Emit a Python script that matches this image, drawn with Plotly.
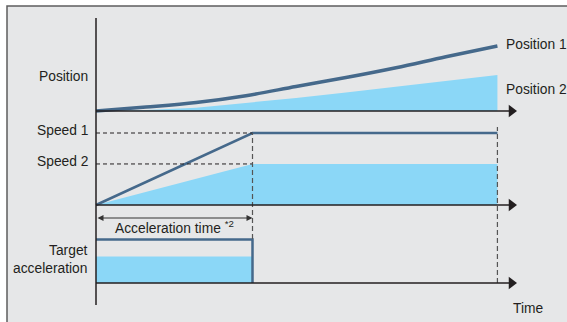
import plotly.graph_objects as go

# ---------------- data ----------------
# time (acceleration time = 1)
t_pos = [0, 0.32, 0.64, 0.958, 1.278, 1.597, 1.917, 2.236, 2.565]
position_1 = [0, 0.06, 0.13, 0.235, 0.377, 0.515, 0.666, 0.835, 1.0]
position_2 = [0, 0.015, 0.05, 0.12, 0.2, 0.285, 0.375, 0.46, 0.555]

t_speed = [0, 1.0, 2.565]
speed_1 = [0, 1.0, 1.0]
speed_2 = [0, 0.57, 0.57]

t_acc = [0, 1.0, 1.0]
target_acc_1 = [1.0, 1.0, 0]
t_acc2 = [0, 1.0]
target_acc_2 = [0.61, 0.61]

ACC_TIME = 1.0
END_TIME = 2.565
AXIS_END = 2.69

# ---------------- style ----------------
W, H = 567, 322
DARK = "#45698b"
LIGHT = "#8bd7f7"
INK = "#231f20"
DASH = "#555555"
PX_PER_T = 156.5
X0PX = 96


def xp(px):
    return px / W


def yp(py):
    return 1 - py / H


def t_of_px(px):
    return (px - X0PX) / PX_PER_T


fig = go.Figure()

# panel background
fig.add_shape(type="rect", xref="paper", yref="paper", x0=xp(7), x1=xp(580),
              y0=yp(340), y1=yp(6), fillcolor="#e6e7e8",
              line=dict(color="#5d5d5d", width=1.5), layer="below")

# position panel
fig.add_trace(go.Scatter(x=t_pos, y=position_2, yaxis="y", mode="lines",
                         line=dict(width=0, color=LIGHT), fill="tozeroy",
                         fillcolor=LIGHT, hoverinfo="skip"))
fig.add_trace(go.Scatter(x=t_pos, y=position_1, yaxis="y", mode="lines",
                         line=dict(width=3.5, color=DARK, shape="spline"),
                         hoverinfo="skip"))

# speed panel
fig.add_trace(go.Scatter(x=t_speed, y=speed_2, yaxis="y2", mode="lines",
                         line=dict(width=0, color=LIGHT), fill="tozeroy",
                         fillcolor=LIGHT, hoverinfo="skip"))
fig.add_trace(go.Scatter(x=t_speed, y=speed_1, yaxis="y2", mode="lines",
                         line=dict(width=2.5, color=DARK), hoverinfo="skip"))

# acceleration panel
fig.add_trace(go.Scatter(x=t_acc2, y=target_acc_2, yaxis="y3", mode="lines",
                         line=dict(width=0, color=LIGHT), fill="tozeroy",
                         fillcolor=LIGHT, hoverinfo="skip"))
fig.add_trace(go.Scatter(x=t_acc, y=target_acc_1, yaxis="y3", mode="lines",
                         line=dict(width=2.5, color=DARK), hoverinfo="skip"))

# dashed guides
for yv in [speed_1[-1], speed_2[-1]]:
    fig.add_shape(type="line", xref="x", yref="y2", x0=0, x1=ACC_TIME,
                  y0=yv, y1=yv, line=dict(color=INK, width=1, dash="4px,3px"))
fig.add_shape(type="line", xref="x", yref="paper", x0=ACC_TIME, x1=ACC_TIME,
              y0=yp(239), y1=yp(133), line=dict(color=DASH, width=1.2, dash="5px,3px"))
fig.add_shape(type="line", xref="x", yref="paper", x0=END_TIME, x1=END_TIME,
              y0=yp(283), y1=yp(127), line=dict(color=DASH, width=1.2, dash="5px,3px"))

# axes
for ya in ["y", "y2", "y3"]:
    fig.add_shape(type="line", xref="x", yref=ya, x0=0, x1=AXIS_END - 0.04,
                  y0=0, y1=0, line=dict(color=INK, width=1.5))
    fig.add_trace(go.Scatter(x=[AXIS_END - 0.035], y=[0], yaxis=ya, mode="markers",
                             marker=dict(symbol="triangle-right", size=11, color=INK,
                                         line=dict(width=0)),
                             hoverinfo="skip"))
fig.add_shape(type="line", xref="x", yref="paper", x0=0, x1=0,
              y0=yp(305), y1=yp(18), line=dict(color=INK, width=1.5))

# acceleration time arrow
fig.add_annotation(x=ACC_TIME, y=yp(218), xref="x", yref="paper",
                   ax=0, ay=0, axref="x", ayref="pixel",
                   text="", showarrow=True, arrowhead=2, arrowside="end+start",
                   arrowsize=1.2, arrowwidth=1, arrowcolor="#333333",
                   standoff=0, startstandoff=0)

font = dict(family="Liberation Sans, Arial, sans-serif", size=13.8, color=INK)
labels = [
    ("Position", 90, 77, "right"),
    ("Speed 1", 90, 131, "right"),
    ("Speed 2", 90, 161, "right"),
    ("Target<br>acceleration", 90, 259, "right"),
    ("Position 1", 504, 44, "left"),
    ("Position 2", 504, 90, "left"),
    ("Time", 511, 308, "left"),
]
for txt, x, y, al in labels:
    fig.add_annotation(x=xp(x), y=yp(y), xref="paper", yref="paper", text=txt,
                       showarrow=False, xanchor=al, yanchor="middle", align=al,
                       font=font)
fig.add_annotation(x=xp(174), y=yp(227), xref="paper", yref="paper",
                   text="Acceleration time <sup>*2</sup>", showarrow=False,
                   xanchor="center", yanchor="middle", font=font)

fig.update_layout(
    width=W, height=H, margin=dict(l=0, r=0, t=0, b=0, pad=0),
    paper_bgcolor="white", plot_bgcolor="rgba(0,0,0,0)", showlegend=False,
    xaxis=dict(visible=False, range=[t_of_px(0), t_of_px(W)], fixedrange=True),
    yaxis=dict(visible=False, range=[-(H - 111) / 65, 111 / 65], domain=[0, 1]),
    yaxis2=dict(visible=False, range=[-(H - 205) / 72, 205 / 72], domain=[0, 1],
                overlaying="y"),
    yaxis3=dict(visible=False, range=[-(H - 283) / 43.5, 283 / 43.5], domain=[0, 1],
                overlaying="y"),
)

fig.write_html("out.html", config={"displayModeBar": False, "staticPlot": True},
               post_script="document.body.style.margin='0';document.body.style.overflow='hidden';")
